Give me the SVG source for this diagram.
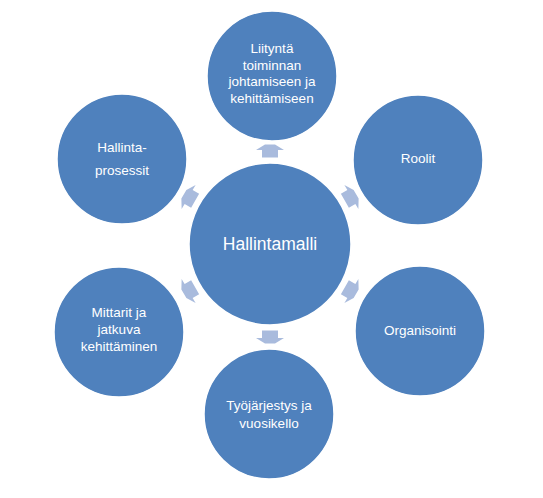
<svg xmlns="http://www.w3.org/2000/svg" width="543" height="498" viewBox="0 0 543 498">
<style>
.node{fill:#4f81bd;stroke:#ffffff;stroke-width:1.5}
.lbl{font-family:"Liberation Sans",Arial,sans-serif;font-size:13.5px;fill:#ffffff;text-anchor:middle}
.big{font-size:17.5px}
.arr{fill:#a9bbdd}
</style>
<defs>
<polygon id="arrow" points="-5,-6.5 5,-6.5 14,-1 8,-1 8,6.5 -8,6.5 -8,-1 -14,-1"/>
</defs>
<rect width="543" height="498" fill="#ffffff"/>
<g id="connectors">
<use href="#arrow" class="arr" transform="translate(270,151)"/>
<use href="#arrow" class="arr" transform="translate(350.5,197.5) rotate(60)"/>
<use href="#arrow" class="arr" transform="translate(350.5,290.5) rotate(120)"/>
<use href="#arrow" class="arr" transform="translate(270,337) rotate(180)"/>
<use href="#arrow" class="arr" transform="translate(189.5,290.5) rotate(240)"/>
<use href="#arrow" class="arr" transform="translate(189.5,197.5) rotate(300)"/>
</g>
<g id="center">
<circle class="node" cx="270" cy="244" r="81"/>
<text class="lbl big" x="270" y="250">Hallintamalli</text>
</g>
<g id="top">
<circle class="node" cx="272" cy="76" r="65"/>
<text class="lbl" x="272" y="53">Liityntä</text>
<text class="lbl" x="272" y="69.5">toiminnan</text>
<text class="lbl" x="272" y="86">johtamiseen ja</text>
<text class="lbl" x="272" y="102.5">kehittämiseen</text>
</g>
<g id="roolit">
<circle class="node" cx="418" cy="160" r="65"/>
<text class="lbl" x="418" y="163">Roolit</text>
</g>
<g id="organisointi">
<circle class="node" cx="420" cy="331" r="65"/>
<text class="lbl" x="420" y="335">Organisointi</text>
</g>
<g id="tyojarjestys">
<circle class="node" cx="269" cy="414" r="65"/>
<text class="lbl" x="269" y="410">Työjärjestys ja</text>
<text class="lbl" x="269" y="428">vuosikello</text>
</g>
<g id="mittarit">
<circle class="node" cx="119" cy="332" r="65"/>
<text class="lbl" x="119" y="317">Mittarit ja</text>
<text class="lbl" x="119" y="334">jatkuva</text>
<text class="lbl" x="119" y="351">kehittäminen</text>
</g>
<g id="hallintaprosessit">
<circle class="node" cx="122" cy="159" r="65"/>
<text class="lbl" x="122" y="152">Hallinta-</text>
<text class="lbl" x="122" y="175">prosessit</text>
</g>
</svg>
